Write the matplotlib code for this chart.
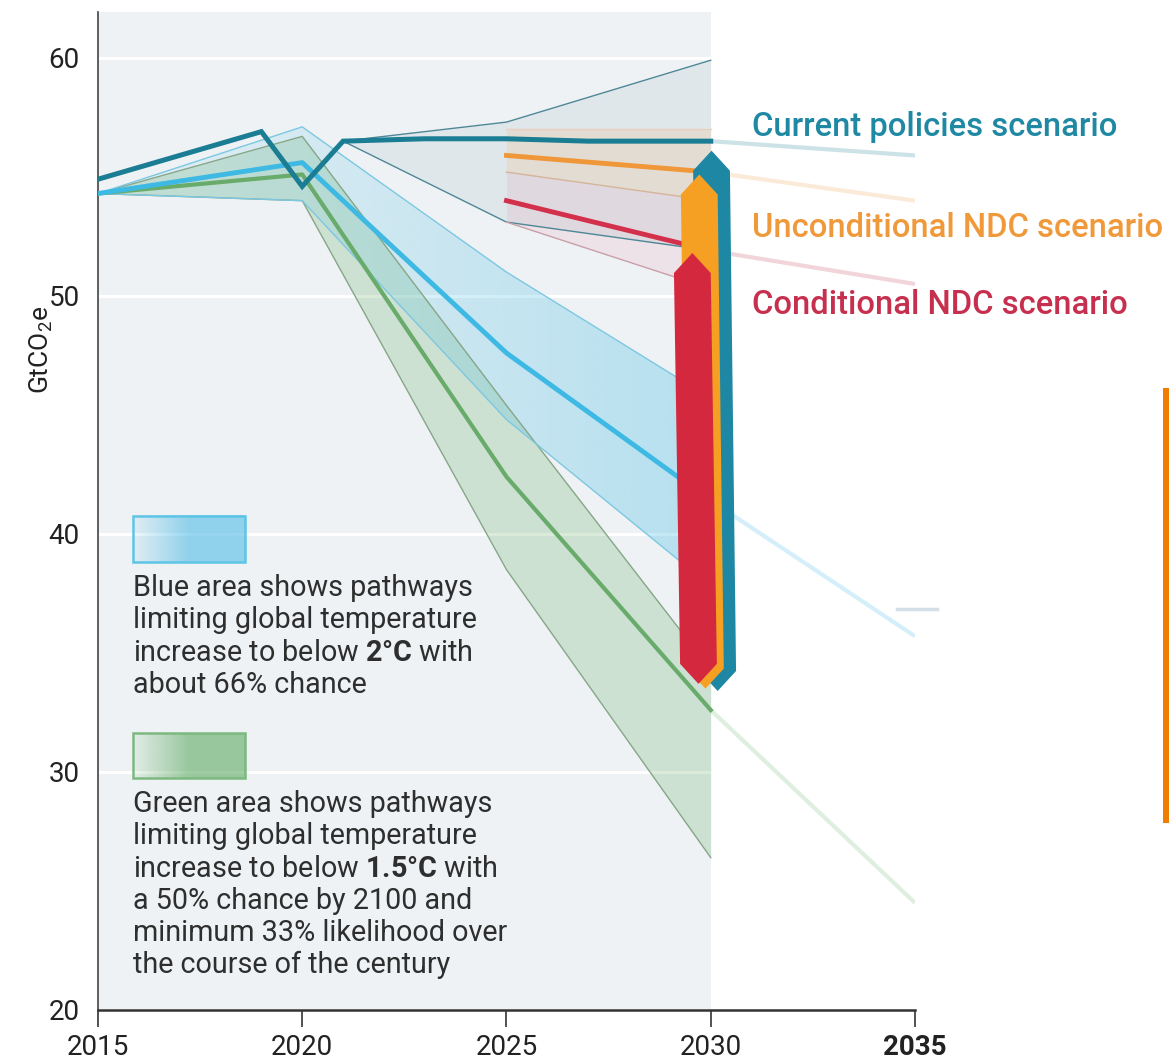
import numpy as np
import matplotlib
matplotlib.use("Agg")
import matplotlib.pyplot as plt
from matplotlib.colors import to_rgb
from matplotlib.patches import Polygon, Rectangle

plt.rcParams['font.family'] = ['Roboto', 'DejaVu Sans']
plt.rcParams['mathtext.fontset'] = 'custom'
plt.rcParams['mathtext.rm'] = 'Roboto'
plt.rcParams['mathtext.bf'] = 'Roboto:bold'
plt.rcParams['mathtext.it'] = 'Roboto:italic'

# pathway envelopes, GtCO2e
path_years = [2015, 2020, 2025, 2030]
blue_mid = [54.3, 55.6, 47.6, 41.4]
blue_hi = [54.3, 57.1, 51.0, 45.7]
blue_lo = [54.3, 54.0, 44.8, 37.8]
green_mid = [54.3, 55.1, 42.4, 32.6]
green_hi = [54.3, 56.7, 45.4, 34.3]
green_lo = [54.3, 54.0, 38.5, 26.4]

# current policies
cp_years = [2015, 2019, 2020, 2021, 2023, 2025, 2027, 2030]
cp_vals = [54.9, 56.9, 54.6, 56.5, 56.6, 56.6, 56.5, 56.5]
cp_band_years = [2021, 2025, 2030]
cp_hi = [56.5, 57.3, 59.9]
cp_lo = [56.5, 53.1, 51.9]

# NDC scenarios
ndc_years = [2025, 2030]
uncond_mid = [55.9, 55.2]
uncond_hi = [57.0, 57.0]
uncond_lo = [55.2, 54.0]
cond_mid = [54.0, 51.9]
cond_hi = [55.2, 54.0]
cond_lo = [53.1, 50.3]

# faded continuation to 2035
ext_years = [2030, 2035]
cp_ext = [56.5, 55.9]
uncond_ext = [55.2, 54.0]
cond_ext = [51.9, 50.5]
blue_ext = [41.4, 35.7]
green_ext = [32.6, 24.5]
dash_2035_x = [2034.56, 2035.53]
dash_2035_y = [36.85, 36.85]

# 2030 gap bars: current, unconditional, conditional
gap_top = [56.1, 55.1, 51.8]
gap_bottom = [33.4, 33.5, 33.7]
gap_colors = ['#1e87a3', '#f5a023', '#d4283f']
gap_centers = [2030.02, 2029.72, 2029.55]

labels = ['Current policies scenario', 'Unconditional NDC scenario',
          'Conditional NDC scenario']
label_y = [57.1, 52.86, 49.62]
label_colors = ['#1f89a4', '#f0993a', '#c62f4e']

xticks = [2015, 2020, 2025, 2030, 2035]
yticks = [20, 30, 40, 50, 60]

BLUE = '#3db9e4'
GREEN = '#6cb26f'
TEAL = '#1a7d93'


def gradient_band(ax, x, lo, hi, color, a0, a1, z):
    verts = list(zip(x, hi)) + list(zip(x[::-1], lo[::-1]))
    clip = Polygon(verts, closed=True, facecolor='none', edgecolor='none')
    ax.add_patch(clip)
    rgba = np.zeros((2, 256, 4))
    rgba[..., :3] = to_rgb(color)
    rgba[..., 3] = np.linspace(a0, a1, 256)
    im = ax.imshow(rgba, extent=[x[0], x[-1], min(lo), max(hi)],
                   aspect='auto', origin='lower', zorder=z,
                   interpolation='bilinear')
    im.set_clip_path(clip)


def gradient_box(ax, x0, x1, y0, y1, color, edge):
    rgba = np.zeros((2, 256, 4))
    rgba[..., :3] = to_rgb(color)
    ramp = np.clip(np.linspace(0, 2.0, 256), 0, 1)
    rgba[..., 3] = 0.08 + 0.5 * ramp
    ax.imshow(rgba, extent=[x0, x1, y0, y1], aspect='auto', origin='lower',
              zorder=6, interpolation='bilinear')
    ax.add_patch(Rectangle((x0, y0), x1 - x0, y1 - y0, facecolor='none',
                           edgecolor=edge, lw=1.8, zorder=7))


def gap_bar(ax, c, top, bottom, color, w=0.45, tip=0.84, skew=0.15):
    verts = [(c, top), (c + w, top - tip), (c + skew + w, bottom + tip),
             (c + skew, bottom), (c + skew - w, bottom + tip),
             (c - w, top - tip)]
    ax.add_patch(Polygon(verts, closed=True, facecolor=color,
                         edgecolor='none', zorder=9))


fig = plt.figure(figsize=(11.69, 10.63), dpi=100)
ax = fig.add_axes([0.0838, 0.0499, 0.6989, 0.9389])

ax.axvspan(2015, 2030, color='#eef2f4', zorder=0.1, lw=0)
ax.set_axisbelow(True)
ax.yaxis.grid(True, color='white', lw=2.2)

# envelopes
ax.fill_between(path_years, green_lo, green_hi, color=GREEN, alpha=0.25,
                lw=0, zorder=2)
gradient_band(ax, path_years, blue_lo, blue_hi, BLUE, 0.06, 0.32, 2.5)
ax.fill_between(cp_band_years, cp_lo, cp_hi, color='#8aaebb', alpha=0.15,
                lw=0, zorder=2)
ax.fill_between(ndc_years, uncond_lo, uncond_hi, color='#f2a65a', alpha=0.16,
                lw=0, zorder=2)
ax.fill_between(ndc_years, cond_lo, cond_hi, color='#e0708a', alpha=0.12,
                lw=0, zorder=2)

for ys, c in [(green_hi, '#86a688'), (green_lo, '#86a688'),
              (blue_hi, '#7cc8e2'), (blue_lo, '#7cc8e2')]:
    ax.plot(path_years, ys, color=c, lw=1.0, zorder=3)
for ys in (cp_hi, cp_lo):
    ax.plot(cp_band_years, ys, color='#4f8797', lw=1.0, zorder=3)
ax.plot(ndc_years, uncond_lo, color='#d6b49a', lw=1.0, zorder=3)
ax.plot(ndc_years, cond_lo, color='#c9a0a8', lw=1.0, zorder=3)
ax.plot(ndc_years, uncond_hi, color='#e8d0bc', lw=1.0, zorder=3)

# continuations
for ys, c in [(cp_ext, TEAL), (uncond_ext, '#f0a050'),
              (cond_ext, '#c8405a'), (blue_ext, BLUE), (green_ext, GREEN)]:
    ax.plot(ext_years, ys, color=c, lw=3.0, alpha=0.22, zorder=3,
            solid_capstyle='butt')
ax.plot(dash_2035_x, dash_2035_y, color='#d3dee6', lw=2.5, clip_on=False,
        zorder=3)

# medians
ax.plot(path_years, green_mid, color='#68ab6b', lw=3.0, zorder=4)
ax.plot(path_years, blue_mid, color=BLUE, lw=3.5, zorder=4)
ax.plot(ndc_years, uncond_mid, color='#f0973a', lw=3.5, zorder=4)
ax.plot(ndc_years, cond_mid, color='#d2304b', lw=3.5, zorder=4)
ax.plot(cp_years, cp_vals, color=TEAL, lw=3.6, zorder=5,
        solid_joinstyle='miter')

for c, t, b, col in zip(gap_centers, gap_top, gap_bottom, gap_colors):
    gap_bar(ax, c, t, b, col)

for txt, y, col in zip(labels, label_y, label_colors):
    ax.text(2031.0, y, txt, color=col, fontsize=23.6, fontweight='medium',
            va='center', ha='left')

# key boxes and notes
gradient_box(ax, 2015.86, 2018.6, 38.82, 40.76, '#4cb9e6', '#5ec5e7')
gradient_box(ax, 2015.86, 2018.6, 29.75, 31.64, '#5aa85e', '#7db97f')

blue_note = ['Blue area shows pathways',
             'limiting global temperature',
             r'increase to below $\mathbf{2°C}$ with',
             'about 66% chance']
green_note = ['Green area shows pathways',
              'limiting global temperature',
              r'increase to below $\mathbf{1.5°C}$ with',
              'a 50% chance by 2100 and',
              'minimum 33% likelihood over',
              'the course of the century']
for lines, y0 in [(blue_note, 37.39), (green_note, 28.32)]:
    for i, line in enumerate(lines):
        ax.annotate(line, (2015.86, y0), xytext=(0, -23.25 * i),
                    textcoords='offset points', fontsize=20.7,
                    color='#2e2e2e', va='baseline', ha='left', zorder=8)

ax.set_xlim(2015, 2035)
ax.set_ylim(20, 61.93)
ax.set_xticks(xticks)
ax.set_xticklabels([str(x) for x in xticks], fontsize=20, color='#222222')
ax.get_xticklabels()[-1].set_fontweight('bold')
ax.set_yticks(yticks)
ax.set_yticklabels([str(y) for y in yticks], fontsize=20, color='#222222')
ax.tick_params(axis='x', length=12, width=1.2, color='#333333', pad=5)
ax.tick_params(axis='y', length=0, pad=13)
ax.set_ylabel('GtCO$_2$e', fontsize=19, color='#222222')
ax.yaxis.set_label_coords(-0.053, 0.661)

for s in ('top', 'right'):
    ax.spines[s].set_visible(False)
ax.spines['left'].set_color('#444444')
ax.spines['left'].set_linewidth(1.2)
ax.spines['bottom'].set_color('#333333')
ax.spines['bottom'].set_linewidth(1.8)

fig.add_artist(Rectangle((0.9949, 0.2258), 0.0051, 0.4092,
                         transform=fig.transFigure, color='#f07d00', lw=0))

fig.savefig('out.png', dpi=100)
